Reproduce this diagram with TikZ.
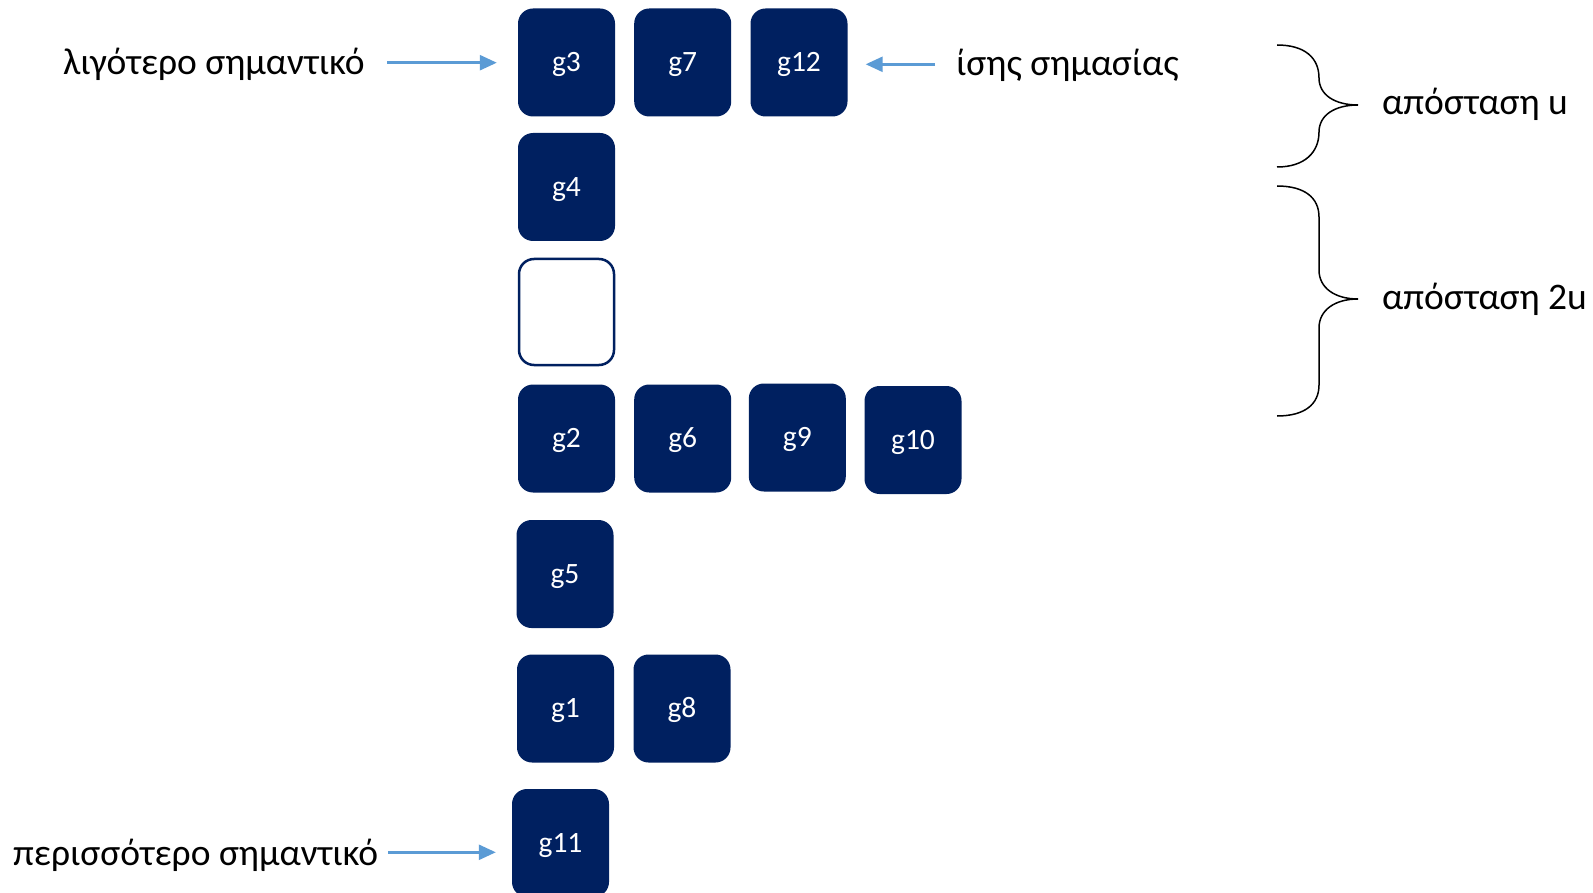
\documentclass[tikz,border=0pt]{standalone}
\usepackage{fontspec}
\setmainfont{Carlito}
\usetikzlibrary{arrows.meta}
\definecolor{navy}{HTML}{002060}
\definecolor{arrblue}{HTML}{5B9BD5}
\tikzset{
  gbox/.style={rounded corners=15pt, fill=navy, draw=none, minimum width=97pt, minimum height=108pt, inner sep=0pt,
     text=white, font=\fontsize{29.5}{34}\selectfont, text height=18.6pt, text depth=0pt},
  ebox/.style={rounded corners=15pt, fill=white, draw=navy, line width=2.5pt, minimum width=95pt, minimum height=106pt, inner sep=0pt},
  lbl/.style={anchor=base west, inner sep=0pt, font=\fontsize{37.5}{44}\selectfont},
  arr/.style={draw=arrblue, line width=2.5pt, -{Triangle[length=17pt,width=15pt]}},
  brace/.style={draw=black, line width=1.5pt}
}
\begin{document}
\begin{tikzpicture}[x=1pt,y=-1pt]
\useasboundingbox (0,0) rectangle (1593,893);
\fill[white] (0,0) rectangle (1593,893);
\begin{scope}
\clip (0,0) rectangle (1593,893);
% boxes
\node[gbox] (g3) at (566.5,62.5) {g3};
\node[gbox] (g7) at (682.7,62.5) {g7};
\node[gbox] (g12) at (799,62.5) {g12};
\node[gbox] (g4) at (566.5,187) {g4};
\node[ebox] (e) at (566.5,312) {};
\node[gbox] (g2) at (566.5,438.5) {g2};
\node[gbox] (g6) at (682.7,438.5) {g6};
\node[gbox] (g9) at (797.3,437.5) {g9};
\node[gbox] (g10) at (913,440) {g10};
\node[gbox] (g5) at (565,574) {g5};
\node[gbox] (g1) at (565.5,708.5) {g1};
\node[gbox] (g8) at (682,708.5) {g8};
\node[gbox] (g11) at (560.5,843) {g11};
\end{scope}
% labels
\node[lbl] (tl) at (63,75) {λιγότερο σημαντικό};
\node[lbl] (tb) at (13,865) {περισσότερο σημαντικό};
\node[lbl] (tr) at (956,76) {ίσης σημασίας};
\node[lbl] (bu) at (1382,115) {απόσταση u};
\node[lbl] (b2u) at (1382,310) {απόσταση 2u};
% arrows
\coordinate (a1) at (387,62.7);
\coordinate (a2) at (388,852.3);
\coordinate (a3) at (935,64.3);
\draw[arr, shorten >=21pt] (a1) -- (a1 -| g3.west);
\draw[arr, shorten >=16pt] (a2) -- (a2 -| g11.west);
\draw[arr, shorten >=18pt] (a3) -- (a3 -| g12.east);
% braces
\draw[brace] (1277,45) .. controls (1305,45) and (1319,58) .. (1319,78)
  .. controls (1319,95) and (1335,105) .. (1358,105)
  .. controls (1335,105) and (1319,115) .. (1319,132)
  .. controls (1319,152) and (1305,167) .. (1277,167);
\draw[brace] (1277,186) .. controls (1305,186) and (1319,198) .. (1319,217) -- (1319,270)
  .. controls (1319,288) and (1335,299) .. (1358,299)
  .. controls (1335,299) and (1319,310) .. (1319,328) -- (1319,385)
  .. controls (1319,404) and (1305,416) .. (1277,416);
\end{tikzpicture}
\end{document}
